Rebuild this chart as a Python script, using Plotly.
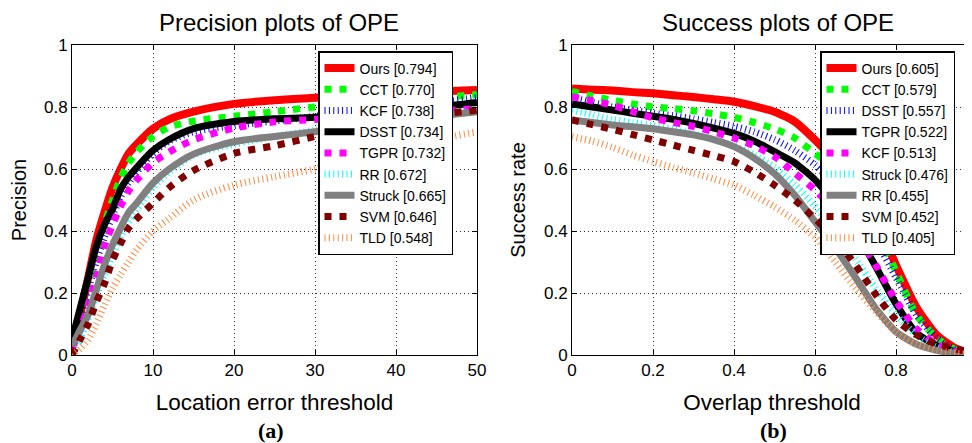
import plotly.graph_objects as go

# ---------------- data ----------------
trackers_prec = ["Ours", "CCT", "KCF", "DSST", "TGPR", "RR", "Struck", "SVM", "TLD"]
scores_prec = ["0.794", "0.770", "0.738", "0.734", "0.732", "0.672", "0.665", "0.646", "0.548"]
loc_thresholds = [0, 1, 2, 3, 4, 5, 6, 7, 8, 10, 12, 15, 20, 25, 30, 35, 40, 45, 50]
prec_ours = [0.04, 0.13, 0.25, 0.37, 0.46, 0.54, 0.60, 0.65, 0.68, 0.73, 0.76, 0.785, 0.81, 0.822, 0.83, 0.838, 0.845, 0.85, 0.855]
prec_cct = [0.02, 0.10, 0.21, 0.32, 0.42, 0.50, 0.57, 0.62, 0.655, 0.705, 0.735, 0.755, 0.77, 0.785, 0.80, 0.81, 0.82, 0.83, 0.84]
prec_kcf = [0.03, 0.11, 0.21, 0.30, 0.38, 0.45, 0.51, 0.555, 0.59, 0.65, 0.69, 0.72, 0.74, 0.755, 0.77, 0.785, 0.80, 0.815, 0.83]
prec_dsst = [0.05, 0.15, 0.25, 0.35, 0.42, 0.47, 0.535, 0.575, 0.605, 0.66, 0.695, 0.73, 0.753, 0.762, 0.767, 0.78, 0.79, 0.80, 0.815]
prec_tgpr = [0.02, 0.08, 0.16, 0.25, 0.35, 0.42, 0.48, 0.53, 0.565, 0.62, 0.655, 0.694, 0.732, 0.752, 0.76, 0.77, 0.778, 0.786, 0.795]
prec_rr = [0.0, 0.05, 0.12, 0.19, 0.26, 0.32, 0.38, 0.43, 0.47, 0.54, 0.59, 0.645, 0.68, 0.705, 0.725, 0.745, 0.762, 0.775, 0.79]
prec_struck = [0.03, 0.08, 0.13, 0.21, 0.29, 0.355, 0.41, 0.46, 0.49, 0.555, 0.60, 0.648, 0.688, 0.705, 0.72, 0.738, 0.755, 0.77, 0.785]
prec_svm = [0.0, 0.05, 0.10, 0.17, 0.23, 0.305, 0.36, 0.41, 0.44, 0.49, 0.54, 0.595, 0.65, 0.675, 0.705, 0.735, 0.755, 0.775, 0.79]
prec_tld = [0.0, 0.02, 0.05, 0.10, 0.16, 0.215, 0.26, 0.30, 0.34, 0.40, 0.44, 0.50, 0.548, 0.575, 0.60, 0.635, 0.665, 0.695, 0.72]

trackers_succ = ["Ours", "CCT", "DSST", "TGPR", "KCF", "Struck", "RR", "SVM", "TLD"]
scores_succ = ["0.605", "0.579", "0.557", "0.522", "0.513", "0.476", "0.455", "0.452", "0.405"]
overlap_thresholds = [0, 0.05, 0.1, 0.15, 0.2, 0.25, 0.3, 0.35, 0.4, 0.45, 0.5,
                      0.55, 0.6, 0.65, 0.7, 0.75, 0.8, 0.85, 0.9, 0.95, 1.0]
succ_ours = [0.86, 0.856, 0.853, 0.848, 0.844, 0.838, 0.832, 0.825, 0.817, 0.803, 0.785, 0.753, 0.694, 0.625, 0.545, 0.44, 0.29, 0.155, 0.065, 0.02, 0.0]
succ_cct = [0.85, 0.835, 0.822, 0.81, 0.80, 0.795, 0.788, 0.778, 0.767, 0.75, 0.73, 0.70, 0.65, 0.60, 0.52, 0.41, 0.27, 0.13, 0.055, 0.015, 0.0]
succ_dsst = [0.83, 0.815, 0.80, 0.79, 0.78, 0.772, 0.762, 0.75, 0.738, 0.72, 0.695, 0.66, 0.613, 0.55, 0.47, 0.37, 0.25, 0.13, 0.055, 0.015, 0.0]
succ_tgpr = [0.81, 0.80, 0.79, 0.78, 0.77, 0.76, 0.747, 0.732, 0.715, 0.69, 0.656, 0.62, 0.565, 0.487, 0.40, 0.285, 0.165, 0.072, 0.03, 0.01, 0.0]
succ_kcf = [0.833, 0.82, 0.806, 0.785, 0.765, 0.75, 0.737, 0.72, 0.70, 0.675, 0.64, 0.587, 0.532, 0.465, 0.39, 0.29, 0.175, 0.085, 0.035, 0.01, 0.0]
succ_struck = [0.79, 0.775, 0.76, 0.75, 0.74, 0.728, 0.713, 0.695, 0.675, 0.645, 0.605, 0.55, 0.48, 0.40, 0.31, 0.215, 0.13, 0.065, 0.025, 0.008, 0.0]
succ_rr = [0.758, 0.75, 0.742, 0.736, 0.73, 0.72, 0.71, 0.695, 0.672, 0.635, 0.585, 0.515, 0.43, 0.345, 0.25, 0.15, 0.075, 0.035, 0.015, 0.005, 0.0]
succ_svm = [0.758, 0.743, 0.728, 0.711, 0.694, 0.677, 0.66, 0.643, 0.624, 0.59, 0.548, 0.5, 0.44, 0.375, 0.29, 0.195, 0.113, 0.065, 0.035, 0.018, 0.005]
succ_tld = [0.704, 0.69, 0.67, 0.645, 0.624, 0.605, 0.587, 0.568, 0.548, 0.515, 0.478, 0.435, 0.38, 0.30, 0.215, 0.14, 0.075, 0.035, 0.015, 0.005, 0.0]

prec_series = [prec_ours, prec_cct, prec_kcf, prec_dsst, prec_tgpr, prec_rr, prec_struck, prec_svm, prec_tld]
succ_series = [succ_ours, succ_cct, succ_dsst, succ_tgpr, succ_kcf, succ_struck, succ_rr, succ_svm, succ_tld]

x_ticks_prec = [0, 10, 20, 30, 40, 50]
x_ticks_succ = [0, 0.2, 0.4, 0.6, 0.8, 1]
y_ticks = [0, 0.2, 0.4, 0.6, 0.8, 1]

# ---------------- styles (by slot) ----------------
SQ = "7px,8px"
HT = "1px,3.4px"
slot_styles = [
    dict(color="#FF0000", width=8, dash="solid"),
    dict(color="#00FF00", width=7, dash=SQ),
    dict(color="#0000FF", width=7, dash=HT),
    dict(color="#000000", width=7, dash="solid"),
    dict(color="#FF00FF", width=7, dash=SQ),
    dict(color="#00FFFF", width=7, dash=HT),
    dict(color="#808080", width=7, dash="solid"),
    dict(color="#800000", width=7, dash=SQ),
    dict(color="#FF8A40", width=7, dash=HT),
]

# page body has an 8px margin: figure occupies window pixels 8..972 / 8..443
OFF = 8
W, H = 972 - OFF, 443 - OFF


def px(xp):
    return (xp - OFF) / W


def py(yp):
    return (H - (yp - OFF)) / H


fig = go.Figure()

for i, name in enumerate(trackers_prec):
    fig.add_trace(go.Scatter(
        x=loc_thresholds, y=prec_series[i], mode="lines",
        name=f"{name} [{scores_prec[i]}]", line=dict(shape="spline", smoothing=0.8, **slot_styles[i]),
        xaxis="x", yaxis="y", legend="legend"))

for i, name in enumerate(trackers_succ):
    fig.add_trace(go.Scatter(
        x=overlap_thresholds, y=succ_series[i], mode="lines",
        name=f"{name} [{scores_succ[i]}]", line=dict(shape="spline", smoothing=0.6, **slot_styles[i]),
        xaxis="x2", yaxis="y2", legend="legend2"))

FONT = "Liberation Sans, Arial, sans-serif"
ydom = [py(355), py(45)]

axis_common = dict(
    showline=True, linecolor="black", linewidth=1,
    ticks="inside", ticklen=5, tickcolor="black", tickwidth=1,
    showgrid=True, gridcolor="#333333", gridwidth=1, griddash="1px,3px",
    zeroline=False, tickfont=dict(family=FONT, size=17, color="black"),
    automargin=False,
)

legend_common = dict(
    xanchor="left", yanchor="top",
    bgcolor="white", bordercolor="black", borderwidth=1.5,
    font=dict(family=FONT, size=14, color="black"), tracegroupgap=0,
)

fig.update_layout(
    width=W, height=H,
    margin=dict(l=0, r=0, t=0, b=0),
    paper_bgcolor="white", plot_bgcolor="white",
    font=dict(family=FONT, color="black"),
    xaxis=dict(domain=[px(72), px(477)], range=[0, 50], tickvals=x_ticks_prec,
               mirror="ticks", anchor="y",
               title=dict(text="Location error threshold", font=dict(size=22.5), standoff=14),
               **axis_common),
    yaxis=dict(domain=ydom, range=[0, 1], tickvals=y_ticks, ticktext=[f"{v:g}" for v in y_ticks],
               mirror="ticks", anchor="x",
               title=dict(text="Precision", font=dict(size=20), standoff=12),
               **axis_common),
    xaxis2=dict(domain=[px(572), 1.0], range=[0, 400 / 405], tickvals=x_ticks_succ,
                ticktext=[f"{v:g}" for v in x_ticks_succ],
                mirror="ticks", anchor="y2",
                title=dict(text="Overlap threshold", font=dict(size=22.5), standoff=14),
                **axis_common),
    yaxis2=dict(domain=ydom, range=[0, 1], tickvals=y_ticks, ticktext=[f"{v:g}" for v in y_ticks],
                mirror=False, anchor="x2",
                title=dict(text="Success rate", font=dict(size=20), standoff=12),
                **axis_common),
    legend=dict(x=px(318), y=py(51), **legend_common),
    legend2=dict(x=px(820), y=py(51), **legend_common),
    showlegend=True,
    annotations=[
        dict(text="Precision plots of OPE", x=px(279), y=py(22), xref="paper", yref="paper",
             showarrow=False, font=dict(family=FONT, size=24, color="black"), xanchor="center", yanchor="middle"),
        dict(text="Success plots of OPE", x=px(778), y=py(22), xref="paper", yref="paper",
             showarrow=False, font=dict(family=FONT, size=24, color="black"), xanchor="center", yanchor="middle"),
        dict(text="<b>(a)</b>", x=px(271), y=py(430), xref="paper", yref="paper",
             showarrow=False, font=dict(family="Liberation Serif, Times New Roman, serif", size=22, color="black"),
             xanchor="center", yanchor="middle"),
        dict(text="<b>(b)</b>", x=px(773), y=py(430), xref="paper", yref="paper",
             showarrow=False, font=dict(family="Liberation Serif, Times New Roman, serif", size=22, color="black"),
             xanchor="center", yanchor="middle"),
    ],
)

fig.write_html("out.html")
